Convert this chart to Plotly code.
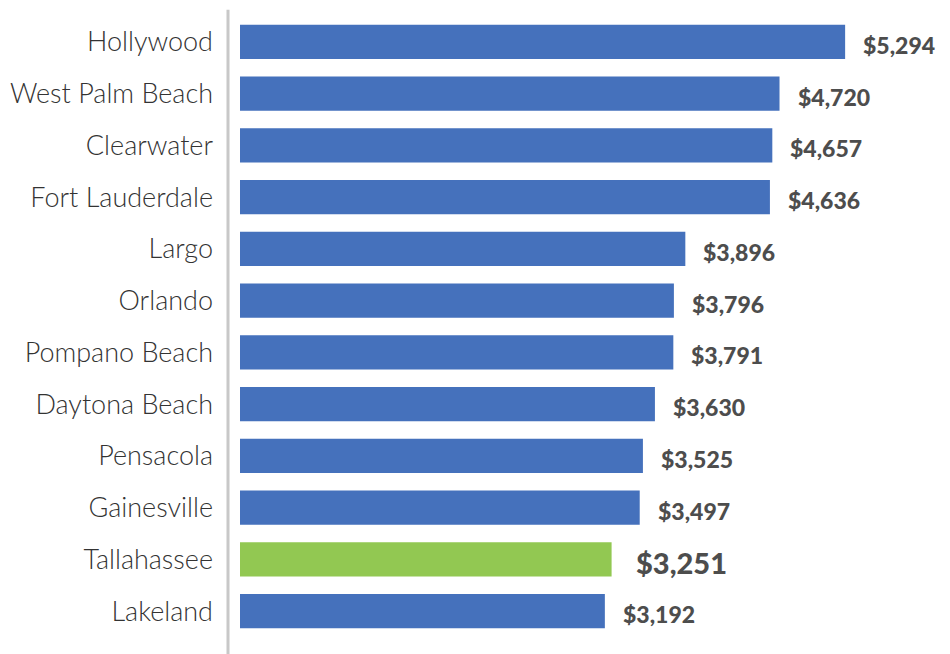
import plotly.graph_objects as go

cities = ["Hollywood", "West Palm Beach", "Clearwater", "Fort Lauderdale", "Largo",
          "Orlando", "Pompano Beach", "Daytona Beach", "Pensacola", "Gainesville",
          "Tallahassee", "Lakeland"]
values = [5294, 4720, 4657, 4636, 3896, 3796, 3791, 3630, 3525, 3497, 3251, 3192]
highlight = "Tallahassee"

BLUE = "#4571BC"
GREEN = "#92C852"
colors = [GREEN if c == highlight else BLUE for c in cities]

fig = go.Figure(go.Bar(
    x=values, y=cities, orientation="h",
    marker=dict(color=colors, line=dict(width=0)),
    hoverinfo="skip",
))

for c, v in zip(cities, values):
    big = c == highlight
    fig.add_annotation(
        x=v, y=c, xref="x", yref="y", text=f"${v:,}", showarrow=False,
        xanchor="left", yanchor="middle", xshift=16 if not big else 22, yshift=-3,
        font=dict(family="Lato", size=29 if big else 23, color="#4D4D4D", weight=900),
    )

fig.add_shape(type="line", xref="paper", yref="paper", x0=0, x1=0, y0=-0.03, y1=1.01,
              line=dict(color="#C8C8C8", width=3))

fig.update_layout(
    width=950, height=654,
    margin=dict(l=228, r=10, t=16, b=17),
    plot_bgcolor="white", paper_bgcolor="white",
    bargap=0.34, showlegend=False,
    xaxis=dict(range=[-105, 6124], visible=False, fixedrange=True),
    yaxis=dict(autorange="reversed", showline=False, showgrid=False, zeroline=False,
               ticks="", ticklabelstandoff=14,
               tickfont=dict(family="Lato", size=27, color="#333333", weight=300)),
)

fig.write_html("out.html")
